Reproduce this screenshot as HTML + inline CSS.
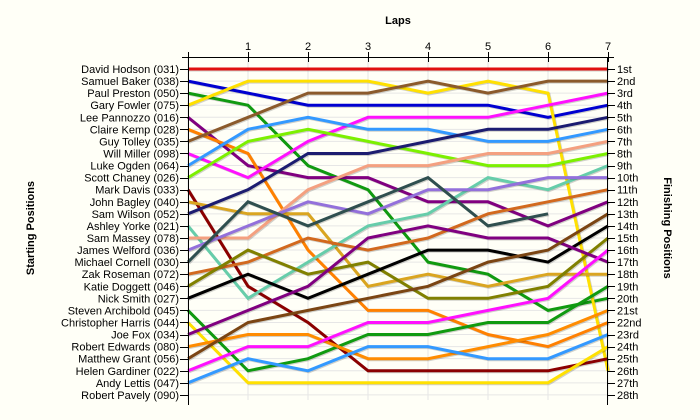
<!DOCTYPE html>
<html><head><meta charset="utf-8"><style>
html,body{margin:0;padding:0;background:#fffff7;}
svg{display:block;font-family:"Liberation Sans",Arial,sans-serif;}
</style></head><body>
<svg id="chart" width="700" height="420" viewBox="0 0 700 420">
<rect x="0" y="0" width="700" height="420" fill="#fffff7"/>
<text x="398" y="24" font-size="11" font-weight="bold" text-anchor="middle" fill="#000">Laps</text>
<text transform="translate(34,228) rotate(-90)" font-size="11" font-weight="bold" text-anchor="middle" fill="#000">Starting Positions</text>
<text transform="translate(664,228) rotate(90)" font-size="11" font-weight="bold" text-anchor="middle" fill="#000">Finishing Positions</text>
<g id="grid"></g><g id="series"></g><g id="axes"></g>
</svg>
<script>
const names = ["David Hodson (031)","Samuel Baker (038)","Paul Preston (050)","Gary Fowler (075)","Lee Pannozzo (016)","Claire Kemp (028)","Guy Tolley (035)","Will Miller (098)","Luke Ogden (064)","Scott Chaney (026)","Mark Davis (033)","John Bagley (040)","Sam Wilson (052)","Ashley Yorke (021)","Sam Massey (078)","James Welford (036)","Michael Cornell (030)","Zak Roseman (072)","Katie Doggett (046)","Nick Smith (027)","Steven Archibold (045)","Christopher Harris (044)","Joe Fox (034)","Robert Edwards (080)","Matthew Grant (056)","Helen Gardiner (022)","Andy Lettis (047)","Robert Pavely (090)"];
const laps = [0,1,2,3,4,5,6,7];
const lapLabels = ["","1","2","3","4","5","6","7"];
const finishLabels = ["1st","2nd","3rd","4th","5th","6th","7th","8th","9th","10th","11th","12th","13th","14th","15th","16th","17th","18th","19th","20th","21st","22nd","23rd","24th","25th","26th","27th","28th"];
const posDavid = [1,1,1,1,1,1,1,1];
const posSamuel = [2,3,4,4,4,4,5,4];
const posPaul = [3,4,9,11,17,18,21,20];
const posGary = [4,2,2,2,3,2,3,26];
const posLee = [5,9,10,10,12,12,14,12];
const posClaire = [6,8,16,21,21,23,24,22];
const posGuy = [7,5,3,3,2,3,2,2];
const posWill = [8,10,7,5,5,5,4,3];
const posLuke = [9,6,5,6,6,7,7,6];
const posScott = [10,7,6,7,8,9,9,8];
const posMark = [11,19,22,26,26,26,26,25];
const posJohn = [12,13,13,19,18,19,18,18];
const posSamW = [13,11,8,8,7,6,6,5];
const posAshley = [14,20,17,14,13,10,11,9];
const posSamM = [15,15,11,9,9,8,8,7];
const posJames = [16,14,12,13,11,11,10,10];
const posMichael = [17,12,14,12,10,14,13,null];
const posZak = [18,17,15,16,15,13,12,11];
const posKatie = [19,16,18,17,20,20,19,15];
const posNick = [20,18,20,18,16,16,17,14];
const posSteven = [21,26,25,23,23,22,22,19];
const posChristopher = [22,27,27,27,27,27,27,24];
const posJoe = [23,21,19,15,14,15,15,17];
const posRobertE = [24,23,23,25,25,24,23,21];
const posMatthew = [25,22,21,20,19,17,16,13];
const posHelen = [26,24,24,22,22,21,20,16];
const posAndy = [27,25,26,24,24,25,25,23];
const allSeries = [posDavid,posSamuel,posPaul,posGary,posLee,posClaire,posGuy,posWill,posLuke,posScott,posMark,posJohn,posSamW,posAshley,posSamM,posJames,posMichael,posZak,posKatie,posNick,posSteven,posChristopher,posJoe,posRobertE,posMatthew,posHelen,posAndy];
const colors = ["#e01010","#0000d0","#109a10","#ffe000","#800080","#ff8000","#8b5a2b","#ff10ff","#3399ff","#7cf000","#8b0000","#daa520","#1c1c70","#66cdaa","#f4a080","#9370db","#2f4f4f","#d2691e","#808000","#000000","#109a10","#ffe000","#800080","#ff8c00","#7b4513","#ff10ff","#3399ff"];

const NS="http://www.w3.org/2000/svg";
const x0=188, x1=608, y0=69, rowH=12.07;
function xScale(l){return x0+(x1-x0)*l/7;}
function yScale(p){return y0+(p-1)*rowH;}
function mk(tag,attrs,parent){const e=document.createElementNS(NS,tag);for(const k in attrs)e.setAttribute(k,attrs[k]);parent.appendChild(e);return e;}
const grid=document.getElementById('grid'), ser=document.getElementById('series'), ax=document.getElementById('axes');
for(let p=1;p<=28;p++){
  const l=mk('line',{x1:x0,x2:x1,y1:yScale(p),y2:yScale(p),stroke:'#e6e6e6','stroke-width':1},grid);
  
  
}
laps.forEach(l=>{
  const g=mk('line',{x1:xScale(l),x2:xScale(l),y1:57,y2:400,stroke:'#e6e6e6','stroke-width':1},grid);
  
  
});
allSeries.forEach((s,i)=>{
  let pts=[];
  s.forEach((v,j)=>{if(v!==null)pts.push(xScale(laps[j]).toFixed(1)+','+yScale(v).toFixed(1));});
  const sh=mk('polyline',{points:pts.join(' '),fill:'none',stroke:'rgba(0,0,0,0.18)','stroke-width':3,transform:'translate(1,1)','stroke-linejoin':'miter'},ser);
  
  
  const pl=mk('polyline',{points:pts.join(' '),fill:'none',stroke:colors[i],'stroke-width':3,'stroke-linejoin':'miter'},ser);
  
  
});
// axes
let a=mk('line',{x1:182,x2:614,y1:57.5,y2:57.5,stroke:'#000','stroke-width':1},ax);


a=mk('line',{x1:188.5,x2:188.5,y1:57,y2:405,stroke:'#000','stroke-width':1},ax);


a=mk('line',{x1:607.5,x2:607.5,y1:57,y2:405,stroke:'#000','stroke-width':1},ax);


laps.forEach((l,i)=>{
  const t=mk('line',{x1:Math.round(xScale(l))+0.5,x2:Math.round(xScale(l))+0.5,y1:52,y2:62,stroke:'#000'},ax);
  
  
  const tx=mk('text',{x:xScale(l),y:50,'font-size':11,'text-anchor':'middle',fill:'#000'},ax);
  tx.textContent=lapLabels[i];
  
  
});
names.forEach((n,i)=>{
  const y=yScale(i+1);
  const t=mk('line',{x1:180,x2:188,y1:Math.round(y)+0.5,y2:Math.round(y)+0.5,stroke:'#000'},ax);
  
  
  const tx=mk('text',{x:179,y:y+4,'font-size':11,'text-anchor':'end',fill:'#000'},ax);
  tx.textContent=n;
  
  
});
finishLabels.forEach((f,i)=>{
  const y=yScale(i+1);
  const t=mk('line',{x1:607,x2:615,y1:Math.round(y)+0.5,y2:Math.round(y)+0.5,stroke:'#000'},ax);
  
  
  const tx=mk('text',{x:617,y:y+4,'font-size':11,'text-anchor':'start',fill:'#000'},ax);
  tx.textContent=f;
  
  
});
</script>
</body></html>
